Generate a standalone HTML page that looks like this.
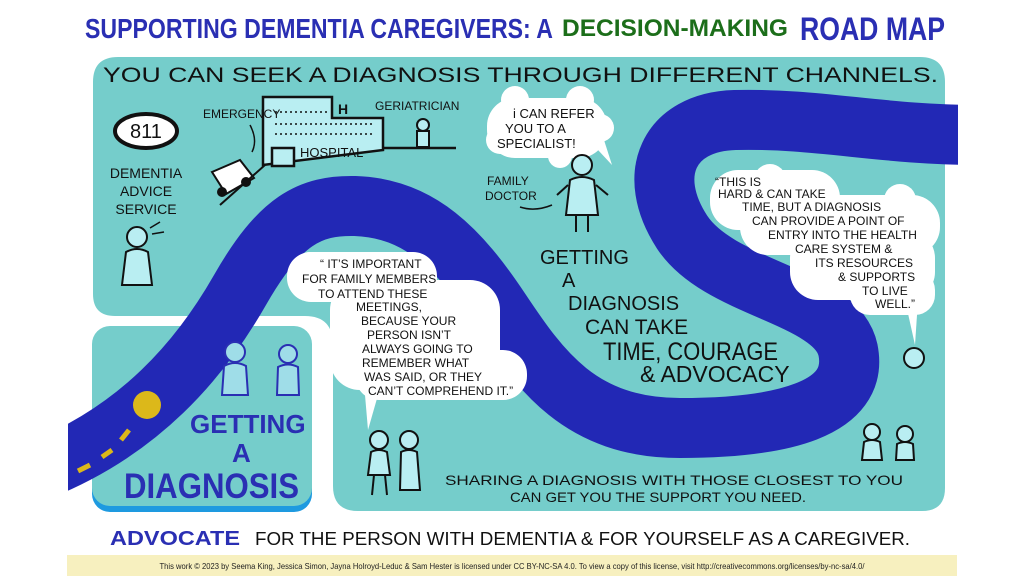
<!DOCTYPE html>
<html><head><meta charset="utf-8"><style>
html,body{margin:0;padding:0;background:#fff;width:1024px;height:576px;overflow:hidden}
svg{display:block}
text{font-family:"Liberation Sans",sans-serif;}
</style></head><body>
<svg width="1024" height="576" viewBox="0 0 1024 576" xmlns="http://www.w3.org/2000/svg">
<!-- Title -->
<text x="85" y="38" font-size="28" font-weight="bold" fill="#2a2fb3" textLength="468" lengthAdjust="spacingAndGlyphs">SUPPORTING DEMENTIA CAREGIVERS: A</text>
<text x="562" y="36" font-size="24" font-weight="bold" fill="#1c6e1a" textLength="226" lengthAdjust="spacingAndGlyphs">DECISION-MAKING</text>
<text x="800" y="40" font-size="32" font-weight="bold" fill="#2a2fb3" textLength="145" lengthAdjust="spacingAndGlyphs">ROAD MAP</text>

<!-- panels -->
<path d="M118 57 H920 Q945 57 945 82 V488 Q945 511 922 511 H358 Q333 511 333 486 V345 Q333 316 305 316 H115 Q93 316 93 294 V82 Q93 57 118 57 Z" fill="#75cdcb"/>
<rect x="92" y="332" width="220" height="180" rx="18" fill="#1e9ae0"/>
<rect x="92" y="326" width="220" height="180" rx="18" fill="#75cdcb"/>

<!-- road -->
<path d="M40 470 C140 430 200 360 240 290 C280 220 310 205 355 206 C420 208 460 250 500 310 C540 370 580 428 680 428 C780 428 860 410 848 350 C836 295 720 290 682 232 C645 175 668 122 735 120 C820 118 880 135 980 135" fill="none" stroke="#2228b5" stroke-width="60"/>
<rect x="0" y="400" width="68" height="120" fill="#fff"/>
<rect x="958" y="80" width="66" height="120" fill="#fff"/>
<circle cx="147" cy="405" r="14" fill="#dcb81a"/>
<g stroke="#dcb81a" stroke-width="5"><line x1="129" y1="430" x2="121" y2="440"/><line x1="112" y1="450" x2="102" y2="457"/><line x1="90" y1="465" x2="78" y2="471"/></g>

<!-- Header text -->
<text x="103" y="82" font-size="21" textLength="835" lengthAdjust="spacingAndGlyphs" fill="#111">YOU CAN SEEK A DIAGNOSIS THROUGH DIFFERENT CHANNELS.</text>

<!-- 811 -->
<ellipse cx="146" cy="131" rx="31" ry="17" fill="#fff" stroke="#111" stroke-width="4"/>
<text x="146" y="138" font-size="20" text-anchor="middle" fill="#111">811</text>
<g font-size="14" fill="#111" text-anchor="middle"><text x="146" y="178">DEMENTIA</text><text x="146" y="196">ADVICE</text><text x="146" y="214">SERVICE</text></g>
<!-- phone person -->
<g stroke="#111" stroke-width="2" fill="#b9eef2"><circle cx="137" cy="237" r="10"/><path d="M122 285 L126 252 Q137 246 148 252 L152 285 Z"/></g>
<g stroke="#111" stroke-width="1.5"><line x1="150" y1="228" x2="160" y2="222"/><line x1="152" y1="234" x2="164" y2="232"/></g>

<!-- hospital -->
<g stroke="#111" stroke-width="2.5" fill="#b9eef2">
<path d="M263 165 V97 H332 V118 H383 V150 L263 165 Z"/>
<rect x="272" y="148" width="22" height="18"/>
</g>
<line x1="383" y1="148" x2="456" y2="148" stroke="#111" stroke-width="2.5"/>
<text x="338" y="114" font-size="14" font-weight="bold" fill="#111">H</text>
<g stroke="#111" stroke-width="1.5"><line x1="275" y1="112" x2="328" y2="112" stroke-dasharray="2 3"/><line x1="275" y1="124" x2="375" y2="124" stroke-dasharray="2 3"/><line x1="275" y1="134" x2="375" y2="134" stroke-dasharray="2 3"/></g>
<text x="300" y="157" font-size="13" fill="#111">HOSPITAL</text>
<text x="203" y="118" font-size="12" fill="#111">EMERGENCY</text>
<path d="M250 125 Q258 140 252 152" fill="none" stroke="#111" stroke-width="1.5"/>
<text x="375" y="110" font-size="12" fill="#111">GERIATRICIAN</text>
<g stroke="#111" stroke-width="2" fill="#b9eef2"><circle cx="423" cy="125" r="6"/><rect x="417" y="131" width="12" height="16"/></g>
<!-- ambulance -->
<g stroke="#111" stroke-width="2" fill="#fff"><path d="M212 172 L240 160 L254 178 L226 194 Z"/><circle cx="222" cy="192" r="4" fill="#111"/><circle cx="246" cy="182" r="4" fill="#111"/></g>
<path d="M220 205 L265 165" stroke="#111" stroke-width="2"/>

<!-- speech bubble top -->
<g fill="#fff"><rect x="487" y="98" width="120" height="60" rx="28"/><circle cx="515" cy="100" r="14"/><circle cx="580" cy="100" r="14"/><circle cx="600" cy="128" r="14"/><circle cx="500" cy="140" r="14"/><circle cx="560" cy="156" r="12"/><path d="M598 150 L612 165 L604 140 Z"/></g>
<g font-size="13" fill="#111"><text x="513" y="118">i CAN REFER</text><text x="505" y="133">YOU TO A</text><text x="497" y="148">SPECIALIST!</text></g>
<g font-size="12" fill="#111"><text x="487" y="185">FAMILY</text><text x="485" y="200">DOCTOR</text></g>
<path d="M520 207 Q535 212 552 205" fill="none" stroke="#111" stroke-width="1.5"/>
<!-- doctor -->
<g stroke="#111" stroke-width="2" fill="#b9eef2"><circle cx="582" cy="165" r="10"/><path d="M566 215 L570 180 Q582 174 594 180 L598 215 Z"/><line x1="576" y1="215" x2="576" y2="232"/><line x1="588" y1="215" x2="588" y2="232"/><line x1="568" y1="185" x2="557" y2="195"/><line x1="596" y1="185" x2="608" y2="195"/></g>

<!-- right bubble -->
<g fill="#fff"><rect x="710" y="170" width="130" height="60" rx="28"/><rect x="740" y="195" width="200" height="60" rx="28"/><rect x="790" y="230" width="145" height="70" rx="28"/><rect x="850" y="270" width="85" height="45" rx="20"/><circle cx="770" cy="180" r="16"/><circle cx="900" cy="200" r="16"/><path d="M905 300 L915 345 L918 300 Z"/></g>
<g font-size="12" fill="#111"><text x="715" y="186">“THIS IS</text><text x="718" y="198">HARD &amp; CAN TAKE</text><text x="742" y="211">TIME, BUT A DIAGNOSIS</text><text x="752" y="225">CAN PROVIDE A POINT OF</text><text x="768" y="239">ENTRY INTO THE HEALTH</text><text x="795" y="253">CARE SYSTEM &amp;</text><text x="815" y="267">ITS RESOURCES</text><text x="838" y="281">&amp; SUPPORTS</text><text x="862" y="295">TO LIVE</text><text x="875" y="308">WELL.”</text></g>
<g stroke="#111" stroke-width="2" fill="#b9eef2"><circle cx="914" cy="358" r="10"/></g>

<!-- center text -->
<g fill="#111"><text x="540" y="264" font-size="20">GETTING</text><text x="562" y="287" font-size="20">A</text><text x="568" y="310" font-size="20">DIAGNOSIS</text><text x="585" y="334" font-size="21">CAN TAKE</text><text x="603" y="360" font-size="25" textLength="175" lengthAdjust="spacingAndGlyphs">TIME, COURAGE</text><text x="640" y="382" font-size="23">&amp; ADVOCACY</text></g>

<!-- left bubble -->
<g fill="#fff"><rect x="287" y="252" width="150" height="50" rx="24"/><rect x="330" y="280" width="170" height="110" rx="30"/><rect x="355" y="350" width="172" height="50" rx="24"/><circle cx="310" cy="268" r="16"/><path d="M365 395 L368 430 L378 395 Z"/></g>
<g font-size="12" fill="#111"><text x="320" y="268">“ IT’S IMPORTANT</text><text x="302" y="283">FOR FAMILY MEMBERS</text><text x="318" y="298">TO ATTEND THESE</text><text x="356" y="311">MEETINGS,</text><text x="361" y="325">BECAUSE YOUR</text><text x="367" y="339">PERSON ISN’T</text><text x="362" y="353">ALWAYS GOING TO</text><text x="362" y="367">REMEMBER WHAT</text><text x="364" y="381">WAS SAID, OR THEY</text><text x="368" y="395">CAN’T COMPREHEND IT.”</text></g>
<!-- two walking -->
<g stroke="#111" stroke-width="2" fill="#b9eef2"><circle cx="379" cy="440" r="9"/><path d="M368 475 L371 452 Q379 448 387 452 L390 475 Z"/><circle cx="409" cy="440" r="9"/><path d="M400 490 L401 452 Q409 448 417 452 L420 490 Z"/><line x1="374" y1="475" x2="372" y2="495"/><line x1="385" y1="475" x2="387" y2="495"/></g>

<!-- lower left -->
<g stroke="#2a2fb3" stroke-width="2" fill="#9fdde8"><circle cx="235" cy="352" r="10"/><path d="M222 395 L224 366 Q235 360 246 366 L248 395 Z"/><circle cx="288" cy="354" r="9"/><path d="M277 395 L278 367 Q288 362 298 367 L299 395 Z"/></g>
<g fill="#2a2fb3" font-weight="bold"><text x="190" y="433" font-size="26">GETTING</text><text x="232" y="462" font-size="26">A</text><text x="124" y="498" font-size="35" textLength="175" lengthAdjust="spacingAndGlyphs">DIAGNOSIS</text></g>

<g font-size="14" fill="#111"><text x="445" y="485" textLength="458" lengthAdjust="spacingAndGlyphs">SHARING A DIAGNOSIS WITH THOSE CLOSEST TO YOU</text><text x="510" y="502" textLength="296" lengthAdjust="spacingAndGlyphs">CAN GET YOU THE SUPPORT YOU NEED.</text></g>
<g stroke="#111" stroke-width="2" fill="#b9eef2"><circle cx="872" cy="432" r="8"/><path d="M862 460 L864 442 Q872 438 880 442 L882 460 Z"/><circle cx="905" cy="434" r="8"/><path d="M896 460 L897 444 Q905 440 913 444 L914 460 Z"/></g>

<!-- bottom line -->
<text x="110" y="545" font-size="20" font-weight="bold" fill="#2a2fb3" textLength="130" lengthAdjust="spacingAndGlyphs">ADVOCATE</text>
<text x="255" y="545" font-size="18" fill="#111" textLength="655" lengthAdjust="spacingAndGlyphs">FOR THE PERSON WITH DEMENTIA &amp; FOR YOURSELF AS A CAREGIVER.</text>

<rect x="67" y="555" width="890" height="21" fill="#f7f0bf"/>
<text x="512" y="569" font-size="8.5" fill="#222" text-anchor="middle" textLength="705" lengthAdjust="spacingAndGlyphs">This work © 2023 by Seema King, Jessica Simon, Jayna Holroyd-Leduc &amp; Sam Hester is licensed under CC BY-NC-SA 4.0. To view a copy of this license, visit http://creativecommons.org/licenses/by-nc-sa/4.0/</text>
</svg>
</body></html>
